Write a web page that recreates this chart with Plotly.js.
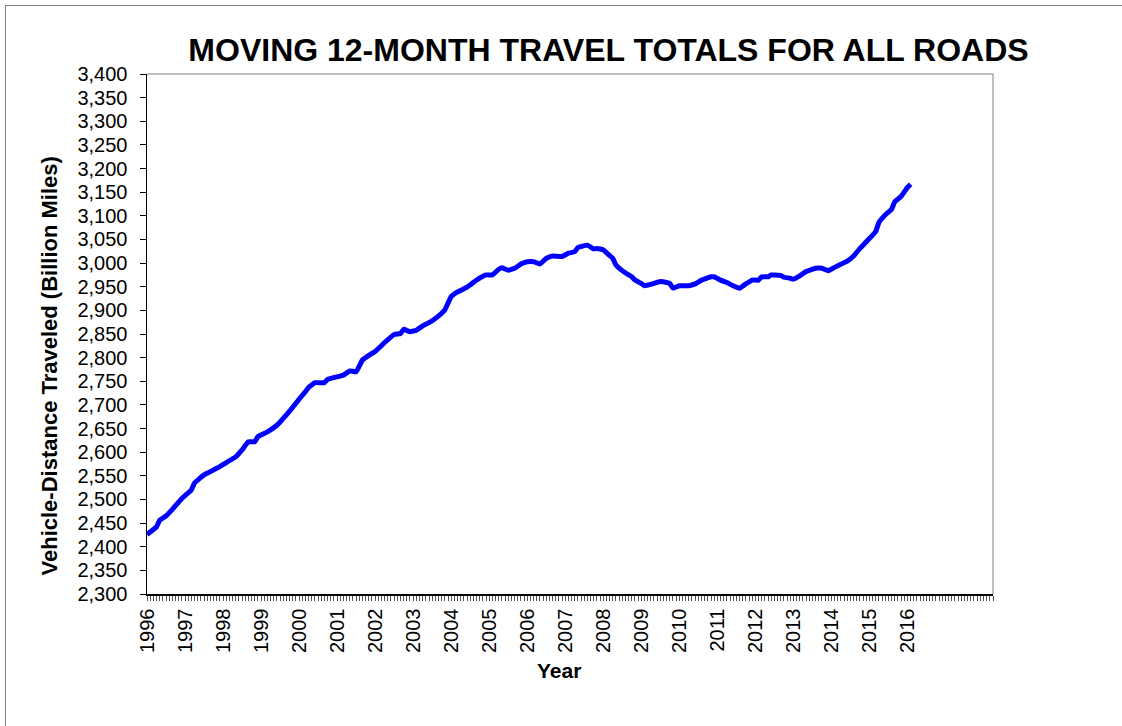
<!DOCTYPE html>
<html>
<head>
<meta charset="utf-8">
<script src="https://cdn.plot.ly/plotly-3.0.1.min.js"></script>
<style>
  html, body { margin: 0; padding: 0; background: #ffffff; overflow: hidden; }
  #chart { width: 1122px; height: 726px; }
</style>
</head>
<body>
<div id="chart"></div>
<script>
// Moving 12-month travel totals (billion vehicle-miles)
const months = [
  '1996-01','1996-04','1996-05','1996-07','1996-09','1996-12','1997-03','1997-04','1997-07','1997-11',
  '1998-02','1998-05','1998-07','1998-09','1998-11','1998-12','1999-03','1999-06','1999-07','1999-09',
  '1999-11','2000-01','2000-03','2000-04','2000-06','2000-09','2000-10','2001-02','2001-03','2001-05',
  '2001-07','2001-09','2001-12','2002-01','2002-04','2002-07','2002-09','2002-10','2002-12','2003-02',
  '2003-04','2003-06','2003-08','2003-10','2003-11','2004-01','2004-03','2004-06','2004-07','2004-09',
  '2004-12','2005-02','2005-04','2005-05','2005-07','2005-09','2005-11','2006-01','2006-03','2006-05',
  '2006-07','2006-09','2006-12','2007-02','2007-04','2007-05','2007-08','2007-10','2007-11','2008-01',
  '2008-02','2008-04','2008-05','2008-07','2008-09','2008-10','2008-11','2009-01','2009-02','2009-05',
  '2009-07','2009-09','2009-10','2009-11','2010-01','2010-04','2010-06','2010-08','2010-11','2010-12',
  '2011-02','2011-04','2011-06','2011-08','2011-10','2011-12','2012-02','2012-03','2012-05','2012-06',
  '2012-07','2012-09','2012-10','2012-12','2013-01','2013-03','2013-05','2013-08','2013-10','2013-12',
  '2014-02','2014-05','2014-06','2014-08','2014-10','2014-12','2015-03','2015-04','2015-06','2015-08',
  '2015-09','2015-11','2016-01','2016-02'
];
const travel = [
  2426,2442,2456,2465,2479,2502,2520,2535,2552,2566,
  2578,2590,2605,2622,2622,2633,2643,2657,2664,2679,
  2695,2712,2728,2737,2747,2747,2754,2761,2763,2772,
  2770,2795,2809,2813,2832,2849,2851,2860,2855,2858,
  2867,2874,2883,2894,2901,2929,2939,2949,2954,2964,
  2975,2975,2987,2990,2985,2989,2998,3003,3003,2998,
  3010,3015,3014,3021,3024,3033,3038,3030,3031,3028,
  3022,3010,2996,2984,2975,2971,2964,2957,2952,2957,
  2961,2959,2957,2947,2952,2952,2956,2964,2971,2971,
  2964,2959,2952,2947,2956,2964,2964,2971,2971,2975,
  2975,2974,2970,2968,2966,2973,2982,2989,2989,2984,
  2991,3001,3004,3015,3031,3045,3067,3086,3102,3114,
  3130,3141,3160,3167
];
const yearLabels = ['1996','1997','1998','1999','2000','2001','2002','2003','2004','2005',
  '2006','2007','2008','2009','2010','2011','2012','2013','2014','2015','2016'];

const START_YEAR = 1996;
const monthIndex = s => (parseInt(s.slice(0,4)) - START_YEAR) * 12 + (parseInt(s.slice(5,7)) - 1);
const xIdx = months.map(monthIndex);
const yearTicks = yearLabels.map(y => (parseInt(y) - START_YEAR) * 12);

const FONT = 'Arial, "Liberation Sans", sans-serif';

const trace = {
  x: xIdx,
  y: travel,
  type: 'scatter',
  mode: 'lines',
  line: { color: '#0000ff', width: 5, shape: 'spline', smoothing: 0.3 },
  hoverinfo: 'y',
  cliponaxis: false
};

const layout = {
  width: 1122,
  height: 726,
  margin: { l: 147, r: 129, t: 74, b: 132, pad: 0 },
  paper_bgcolor: '#ffffff',
  plot_bgcolor: '#ffffff',
  showlegend: false,
  font: { family: FONT, color: '#000000' },
  title: {
    text: '<b>MOVING 12-MONTH TRAVEL TOTALS FOR ALL ROADS</b>',
    font: { family: FONT, size: 32, color: '#000000' },
    xref: 'container', x: 608.5 / 1122, xanchor: 'center',
    yref: 'container', y: 1 - 49.5 / 726, yanchor: 'middle'
  },
  xaxis: {
    range: [0, 267],
    tickmode: 'array',
    tickvals: yearTicks,
    ticktext: yearLabels,
    tickangle: -90,
    ticks: 'outside', ticklen: 5, tickwidth: 1, tickcolor: '#555555',
    tickfont: { family: FONT, size: 20, color: '#000000' },
    minor: { tickmode: 'linear', tick0: 0, dtick: 1, ticks: 'outside', ticklen: 5, tickwidth: 1, tickcolor: '#555555', showgrid: false },
    showline: true, linecolor: '#000000', linewidth: 1.5,
    showgrid: false, zeroline: false, fixedrange: true
  },
  yaxis: {
    range: [2300, 3400],
    tickmode: 'linear', tick0: 2300, dtick: 50,
    tickformat: ',d',
    ticks: 'outside', ticklen: 6, tickwidth: 1, tickcolor: '#000000',
    tickfont: { family: FONT, size: 20, color: '#000000' },
    ticklabelstandoff: 8,
    showline: true, linecolor: '#000000', linewidth: 1.5,
    showgrid: false, zeroline: false, fixedrange: true
  },
  shapes: [
    { type: 'line', xref: 'paper', yref: 'paper', x0: 0, x1: 1, y0: 1, y1: 1, line: { color: '#808080', width: 1 } },
    { type: 'line', xref: 'paper', yref: 'paper', x0: 1, x1: 1, y0: 0, y1: 1, line: { color: '#808080', width: 1 } },
    { type: 'line', xref: 'paper', yref: 'paper', x0: (5 - 147) / 846, x1: 2, y0: (594 - 5.5) / 520, y1: (594 - 5.5) / 520, line: { color: '#808080', width: 1 } },
    { type: 'line', xref: 'paper', yref: 'paper', x0: (5.5 - 147) / 846, x1: (5.5 - 147) / 846, y0: (594 - 5) / 520, y1: -2, line: { color: '#808080', width: 1 } }
  ],
  annotations: [
    {
      text: '<b>Year</b>', showarrow: false,
      xref: 'paper', yref: 'paper',
      x: (558.5 - 147) / 846, y: (594 - 670.5) / 520,
      xanchor: 'center', yanchor: 'middle',
      font: { family: FONT, size: 21, color: '#000000' }
    },
    {
      text: '<b>Vehicle-Distance Traveled (Billion Miles)</b>', showarrow: false,
      xref: 'paper', yref: 'paper', textangle: -90,
      x: (48.5 - 147) / 846, y: (594 - 366) / 520,
      xanchor: 'center', yanchor: 'middle',
      font: { family: FONT, size: 22, color: '#000000' }
    }
  ]
};

Plotly.newPlot('chart', [trace], layout, { displayModeBar: false, staticPlot: true });
</script>
</body>
</html>
